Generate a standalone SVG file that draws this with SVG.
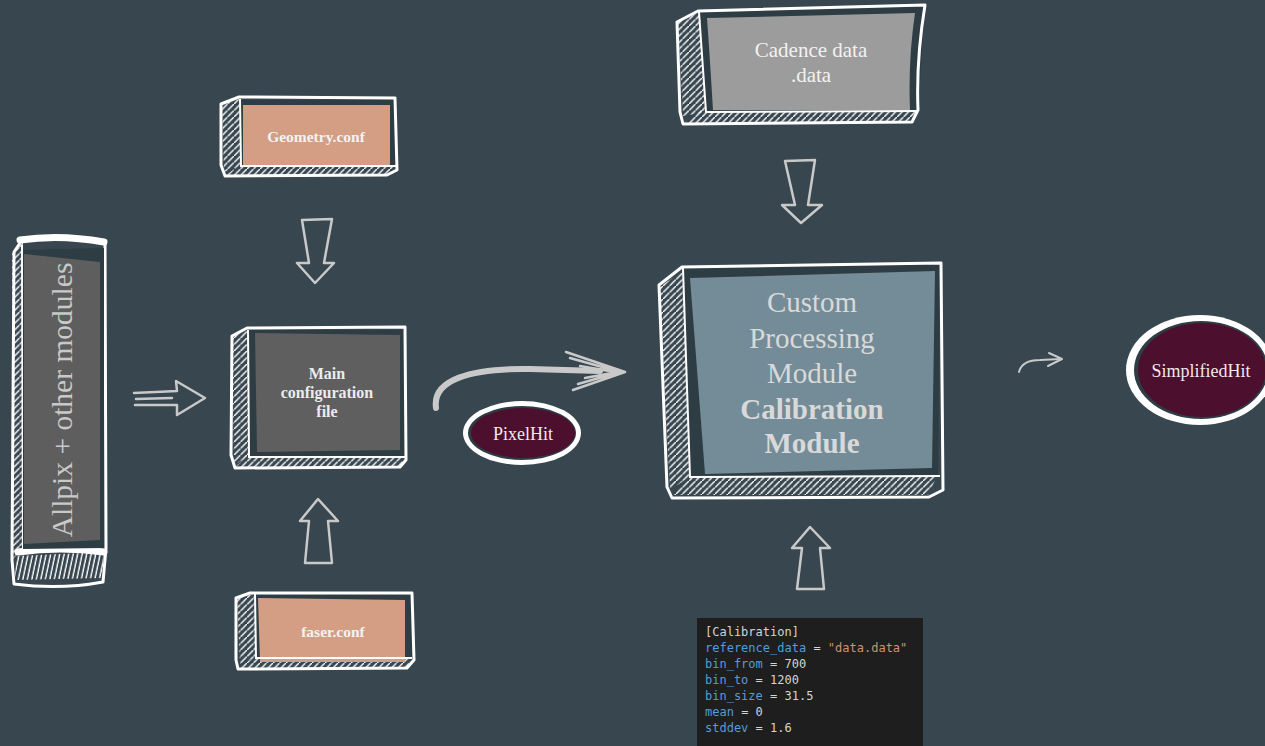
<svg xmlns="http://www.w3.org/2000/svg" width="1265" height="746" viewBox="0 0 1265 746">
<defs>
<pattern id="hatch" patternUnits="userSpaceOnUse" width="6.5" height="6.5">
<path d="M-1,7.5 L7.5,-1" stroke="#ffffff" stroke-width="1.4"/>
</pattern>
<pattern id="hatchV" patternUnits="userSpaceOnUse" width="4.5" height="30" patternTransform="skewX(-12)">
<path d="M2,0 L2,30" stroke="#ffffff" stroke-width="1.4"/>
</pattern>
<style>
.outline{fill:none;stroke:#ffffff;stroke-width:3;stroke-linejoin:round;stroke-linecap:round}
.frame{fill:#2e3c44}
.arrow{fill:none;stroke:#c9c9c9;stroke-width:2.5;stroke-linejoin:round;stroke-linecap:round}
.lbl{font-family:"Liberation Serif","Times New Roman",serif;text-anchor:middle}
.b{font-weight:bold}
.code{font-family:"DejaVu Sans Mono","Liberation Mono",monospace;font-size:12px;fill:#d4d4d4}
.k{fill:#569cd6}
.s{fill:#ce9178}
</style>
</defs>
<rect width="1265" height="746" fill="#37464f"/>

<g id="allpix">
<polygon points="12,252 23,242 23,548 12,560" fill="url(#hatch)"/>
<polygon points="16,556 104,552 102,578 15,580" fill="url(#hatchV)"/>
<path class="outline" d="M14,252 L22,240 Q60,232 105,242 L106,548 L103,582 Q60,590 14,584 L12,560 Z"/>
<path d="M20,240 Q60,234 104,242" stroke="#fff" stroke-width="7" fill="none" stroke-linecap="round"/>
<path d="M18,552 Q60,546 104,552" stroke="#fff" stroke-width="7" fill="none" stroke-linecap="round"/>
<path d="M22,245 L23,552" stroke="#fff" stroke-width="2"/>
<polygon points="23,250 104,248 104,548 23,549" class="frame"/>
<polygon points="24,254 100,262 100,540 24,544" fill="#5e5e5e"/>
<text class="lbl" x="0" y="0" font-size="29.5" fill="#c9c9c9" transform="translate(72,400) rotate(-90)">Allpix + other modules</text>
</g>

<g id="geometry">
<polygon points="222,104 240,99 240,166 224,172" fill="url(#hatch)"/>
<polygon points="240,165 396,165 388,175 226,175" fill="url(#hatch)"/>
<rect x="240" y="100" width="155" height="66" class="frame"/>
<rect x="243" y="105" width="147" height="60" fill="#d49e84"/>
<path class="outline" d="M221,104 L239,97 L395,98 L397,170 L387,175 L225,176 L221,165 Z"/>
<path d="M240,99 L241,166 L396,166" stroke="#fff" stroke-width="2" fill="none"/>
<text class="lbl b" x="316" y="142" font-size="15.5" fill="#f2f2f2">Geometry.conf</text>
</g>

<g id="mainconf">
<polygon points="232,336 248,330 248,457 234,465" fill="url(#hatch)"/>
<polygon points="248,456 405,456 400,467 235,467" fill="url(#hatch)"/>
<rect x="248" y="330" width="157" height="127" class="frame"/>
<polygon points="255,333 400,335 400,450 257,452" fill="#5f5f5f"/>
<path class="outline" d="M232,336 L247,328 L405,327 L406,460 L400,467 L235,468 L231,455 Z"/>
<path d="M248,330 L249,457 L405,457" stroke="#fff" stroke-width="2" fill="none"/>
<text class="lbl b" font-size="16" fill="#ececec"><tspan x="327" y="379">Main</tspan><tspan x="327" y="398">configuration</tspan><tspan x="327" y="417">file</tspan></text>
</g>

<g id="faser">
<polygon points="237,598 254,594 256,657 240,664" fill="url(#hatch)"/>
<polygon points="256,656 412,656 407,668 238,668" fill="url(#hatch)"/>
<rect x="255" y="595" width="157" height="62" class="frame"/>
<polygon points="258,598 405,600 405,662 260,662" fill="#d49e84"/>
<path class="outline" d="M236,598 L250,593 L412,593 L414,660 L407,668 L238,669 L236,660 Z"/>
<path d="M255,594 L256,658 L412,658" stroke="#fff" stroke-width="2" fill="none"/>
<text class="lbl b" x="333" y="637" font-size="15.5" fill="#f2f2f2">faser.conf</text>
</g>

<g id="cadence">
<polygon points="678,22 700,12 707,112 683,116" fill="url(#hatch)"/>
<polygon points="700,110 918,110 912,122 684,123" fill="url(#hatch)"/>
<polygon points="700,12 925,6 918,112 705,112" class="frame"/>
<path d="M707,18 L915,13 Q908,60 910,110 L713,110 Q710,60 707,18 Z" fill="#9c9c9c"/>
<path class="outline" d="M677,22 L698,11 L925,5 Q916,60 918,110 L912,122 L683,124 L680,112 Z"/>
<path d="M699,12 L706,112 L918,111" stroke="#fff" stroke-width="2" fill="none"/>
<text class="lbl" font-size="21" fill="#f2f2f2"><tspan x="811" y="57">Cadence data</tspan><tspan x="811" y="82">.data</tspan></text>
</g>

<g id="custom">
<polygon points="659,287 683,271 691,476 670,490" fill="url(#hatch)"/>
<polygon points="690,475 938,474 928,495 672,495" fill="url(#hatch)"/>
<polygon points="683,268 940,264 938,476 690,477" class="frame"/>
<polygon points="690,278 935,271 932,468 705,474" fill="#748c98"/>
<path class="outline" d="M659,285 L682,267 L941,263 L943,490 L929,497 L672,498 L667,487 Z"/>
<path d="M683,268 L690,477 L940,476" stroke="#fff" stroke-width="2" fill="none"/>
<text class="lbl" font-size="29" fill="#d9d9d9"><tspan x="812" y="312">Custom</tspan><tspan x="812" y="348">Processing</tspan><tspan x="812" y="383">Module</tspan></text>
<text class="lbl b" font-size="29" fill="#d9d9d9"><tspan x="812" y="419">Calibration</tspan><tspan x="812" y="453">Module</tspan></text>
</g>

<g id="pixelhit">
<ellipse cx="522" cy="433" rx="59" ry="32" fill="#ffffff"/>
<ellipse cx="522" cy="433" rx="54" ry="27" fill="#2e3c44"/>
<ellipse cx="523" cy="433" rx="52" ry="25" fill="#4d0f2e"/>
<text class="lbl" x="523" y="440" font-size="18" fill="#f0e8ec">PixelHit</text>
</g>

<g id="simplifiedhit">
<ellipse cx="1200" cy="370" rx="74" ry="55" fill="#ffffff"/>
<ellipse cx="1201" cy="370" rx="67" ry="49" fill="#2e3c44"/>
<ellipse cx="1202" cy="370" rx="64" ry="47" fill="#4d0f2e"/>
<text class="lbl" x="1201" y="377" font-size="18" fill="#f0e8ec">SimplifiedHit</text>
</g>

<g id="code">
<rect x="697" y="618" width="226" height="128" fill="#1e1e1e"/>
<text class="code" x="705" y="636">[Calibration]</text>
<text class="code" x="705" y="652"><tspan class="k">reference_data</tspan> = <tspan class="s">"data.data"</tspan></text>
<text class="code" x="705" y="668"><tspan class="k">bin_from</tspan> = 700</text>
<text class="code" x="705" y="684"><tspan class="k">bin_to</tspan> = 1200</text>
<text class="code" x="705" y="700"><tspan class="k">bin_size</tspan> = 31.5</text>
<text class="code" x="705" y="716"><tspan class="k">mean</tspan> = 0</text>
<text class="code" x="705" y="732"><tspan class="k">stddev</tspan> = 1.6</text>
</g>

<g id="connectors">
<path class="arrow" d="M134,393 L177,391 L176,381 L205,398 L177,415 L177,405 L135,405"/>
<path class="arrow" d="M136,399 L172,398"/>
<path class="arrow" d="M302,220 L332,219 L324,263 L334,263 L315,283 L297,263 L309,263 Z"/>
<path class="arrow" d="M318,499 L338,521 L328,521 L332,563 L305,563 L309,521 L300,521 Z"/>
<path class="arrow" d="M785,161 L815,160 L808,205 L822,205 L801,223 L782,205 L795,205 Z"/>
<path class="arrow" d="M810,527 L830,548 L820,548 L824,589 L797,589 L802,548 L792,548 Z"/>
<path d="M436,408 C432,380 470,368 530,369 L600,371" fill="none" stroke="#c9c9c9" stroke-width="6" stroke-linecap="round"/>
<path class="arrow" d="M566,352 L625,372 L573,390 M570,358 L620,372 L578,384 M580,366 L615,372 M585,378 L612,373"/>
<path d="M1019,372 Q1022,360 1040,360 L1061,359" fill="none" stroke="#c9c9c9" stroke-width="2" stroke-linecap="round"/>
<path d="M1049,353 L1062,359 L1048,366" fill="none" stroke="#c9c9c9" stroke-width="2" stroke-linecap="round" stroke-linejoin="round"/>
</g>
</svg>
